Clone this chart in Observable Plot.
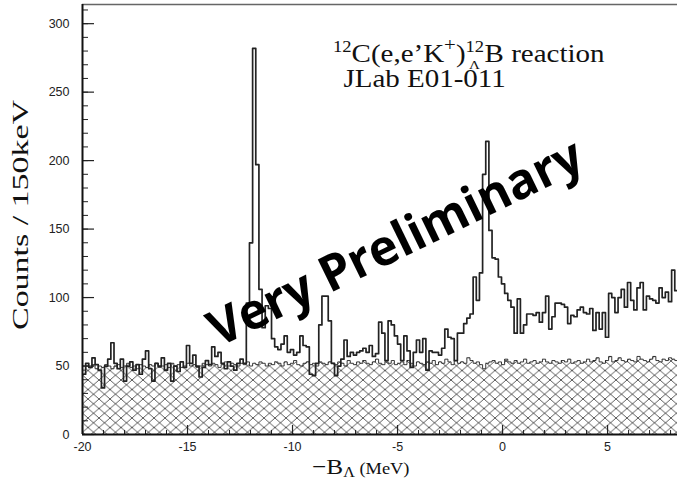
<!DOCTYPE html>
<html><head><meta charset="utf-8">
<script src="https://cdn.jsdelivr.net/npm/d3@7"></script>
<script src="https://cdn.jsdelivr.net/npm/@observablehq/plot@0.6"></script>
<style>html,body{margin:0;padding:0;background:#fff}</style>
</head><body><div id="chart"></div>
<script>
// ---- data ----
const binStart = -20;      // MeV, left edge of first bin
const binWidth = 0.15;     // MeV (150 keV bins)
const counts = [
  44,52,49,56,51,47,34,50,55,67,
  52,48,55,39,50,53,47,51,44,55,
  61,48,39,52,50,56,47,52,39,50,
  46,53,49,65,52,58,50,42,49,54,
  51,64,57,60,52,48,53,50,47,52,
  55,52,96,140,282,197,106,78,94,92,
  70,64,62,66,72,60,62,58,60,72,
  65,64,44,43,52,80,101,101,83,52,
  43,50,55,69,57,60,58,60,61,63,
  60,65,57,59,82,74,54,83,80,72,
  66,54,72,61,49,60,69,60,70,47,
  61,60,60,58,63,77,71,70,54,74,
  74,81,85,88,115,98,118,190,214,149,
  129,128,115,110,103,98,93,74,99,74,
  80,88,88,87,89,82,89,101,77,86,
  96,96,95,93,81,87,86,91,93,89,
  88,92,76,89,77,89,71,103,100,89,
  100,106,93,111,98,91,107,111,91,101,
  99,98,96,107,100,104,97,120,105
];
const background = [
  47,50,49,51,48,50,49,51,50,48,
  50,51,49,50,52,49,50,48,51,50,
  49,51,50,52,49,50,51,49,52,50,
  51,49,50,52,50,51,49,50,52,51,
  50,52,51,49,51,53,50,52,51,50,
  52,51,53,50,52,51,53,52,50,52,
  51,53,52,50,53,51,52,54,51,50,
  52,53,51,52,50,53,52,51,53,52,
  51,53,52,50,54,52,51,53,52,54,
  52,51,53,55,52,51,53,52,54,51,
  52,53,51,54,52,50,53,52,51,53,
  52,54,51,53,52,55,53,51,54,52,
  53,52,56,54,52,53,51,48,52,53,
  54,52,53,51,55,53,52,54,52,53,
  55,52,53,54,52,53,55,53,52,54,
  53,52,54,53,55,52,53,54,52,53,
  55,53,54,56,53,52,54,57,53,54,
  56,54,53,55,54,53,57,55,54,53,
  55,57,54,53,55,54,56,55,54
];
const xDomain = [-20, 8.33];
const yDomain = [0, 314];
const xMajorTicks = [-20, -15, -10, -5, 0, 5];
const xMinorTicks = d3.range(-20, 9, 1);
const yMajorTicks = [0, 50, 100, 150, 200, 250, 300];
const yMinorTicks = d3.range(0, 311, 10);
const yLabel = "Counts / 150keV";
const watermark = "Very Preliminary";

// ---- layout ----
const W = 677, H = 482, mL = 82, mR = 0, mT = 4, mB = 48;
const innerW = W - mL - mR, innerH = H - mT - mB;

const n = counts.length;
const steps = vals => vals.map((v, i) => ({x: binStart + i * binWidth, y: v}))
  .concat([{x: binStart + n * binWidth, y: vals[n - 1]}]);

const svg = Plot.plot({
  width: W, height: H,
  marginLeft: mL, marginRight: mR, marginTop: mT, marginBottom: mB,
  x: {domain: xDomain, label: null},
  y: {domain: yDomain, label: null},
  style: {background: "white"},
  marks: [
    Plot.areaY(steps(background), {x: "x", y: "y", curve: "step-after", fill: "url(#hatch)", clip: true}),
    Plot.lineY(steps(background), {x: "x", y: "y", curve: "step-after", stroke: "#222", strokeWidth: 0.9, clip: true}),
    Plot.lineY(steps(counts), {x: "x", y: "y", curve: "step-after", stroke: "#222", strokeWidth: 1.7, clip: true}),
    Plot.tickX(xMinorTicks, {x: d => d, insetTop: innerH - 4, stroke: "#222"}),
    Plot.tickX(xMajorTicks, {x: d => d, insetTop: innerH - 9, stroke: "#222", strokeWidth: 1.2}),
    Plot.tickY(yMinorTicks, {y: d => d, insetRight: innerW - 6, stroke: "#222"}),
    Plot.tickY(yMajorTicks, {y: d => d, insetRight: innerW - 12, stroke: "#222", strokeWidth: 1.2}),
    Plot.ruleY([yDomain[1]], {stroke: "#666", strokeWidth: 1.5}),
    Plot.ruleY([0], {stroke: "#111", strokeWidth: 2}),
    Plot.ruleX([xDomain[0]], {stroke: "#111", strokeWidth: 2}),
    Plot.axisX({ticks: xMajorTicks, tickSize: 0, tickPadding: 8, tickFormat: d => String(d), label: null, fontSize: 12.5, fontFamily: "Liberation Sans", fill: "#222"}),
    Plot.axisY({ticks: yMajorTicks, tickSize: 0, tickPadding: 13, tickFormat: d => String(d), label: null, fontSize: 12.5, fontFamily: "Liberation Sans", fill: "#222"})
  ]
});

const s = d3.select(svg);
// hatch pattern for background histogram
const pat = s.insert("defs", ":first-child").append("pattern")
  .attr("id", "hatch").attr("patternUnits", "userSpaceOnUse")
  .attr("width", 11).attr("height", 9.5);
pat.append("rect").attr("width", 11).attr("height", 9.5).attr("fill", "white");
pat.append("path").attr("d", "M-2,-1.727L13,11.227M-2,11.227L13,-1.727")
  .attr("stroke", "#333").attr("stroke-width", 0.8).attr("fill", "none");

// y label
s.append("text")
  .attr("transform", "translate(28,215) rotate(-90)")
  .attr("text-anchor", "middle")
  .attr("font-family", "Liberation Serif").attr("font-size", 24).attr("fill", "#111")
  .attr("textLength", 230).attr("lengthAdjust", "spacingAndGlyphs")
  .text(yLabel);

// x label: −BΛ (MeV)
const xl = s.append("g").attr("transform", "translate(312,474) scale(1.15,1)")
  .append("text").attr("text-anchor", "start")
  .attr("font-family", "Liberation Serif").attr("fill", "#111").attr("font-size", 22);
xl.append("tspan").text("−B");
xl.append("tspan").attr("font-size", 14).attr("dy", 3).text("Λ");
xl.append("tspan").attr("font-size", 16).attr("dy", -3).text(" (MeV)");

// title
const tg = s.append("g").attr("transform", "translate(333,62) scale(1.16,1)");
const t1 = tg.append("text").attr("text-anchor", "start")
  .attr("font-family", "Liberation Serif").attr("font-size", 25).attr("fill", "#111");
t1.append("tspan").attr("font-size", 16).attr("dy", -10).text("12");
t1.append("tspan").attr("dy", 10).text("C(e,e’K");
t1.append("tspan").attr("font-size", 18).attr("dy", -11).text("+");
t1.append("tspan").attr("dy", 11).text(")");
t1.append("tspan").attr("font-size", 16).attr("dy", -10).text("12");
t1.append("tspan").attr("font-size", 13).attr("dx", -13).attr("dy", 17).text("Λ");
t1.append("tspan").attr("dx", 4).attr("dy", -7).text("B reaction");
tg.append("text").attr("text-anchor", "start").attr("x", 9).attr("y", 25)
  .attr("font-family", "Liberation Serif")
  .attr("font-size", 25).attr("fill", "#111").text("JLab E01-011");

// watermark
s.append("text")
  .attr("transform", "translate(395,242) rotate(-26)")
  .attr("text-anchor", "middle").attr("dy", "0.35em")
  .attr("font-family", "Open Sans").attr("font-weight", 700).attr("font-size", 50)
  .attr("textLength", 410).attr("lengthAdjust", "spacingAndGlyphs")
  .attr("fill", "#000").text(watermark);

document.getElementById("chart").appendChild(svg);
</script>
</body></html>
